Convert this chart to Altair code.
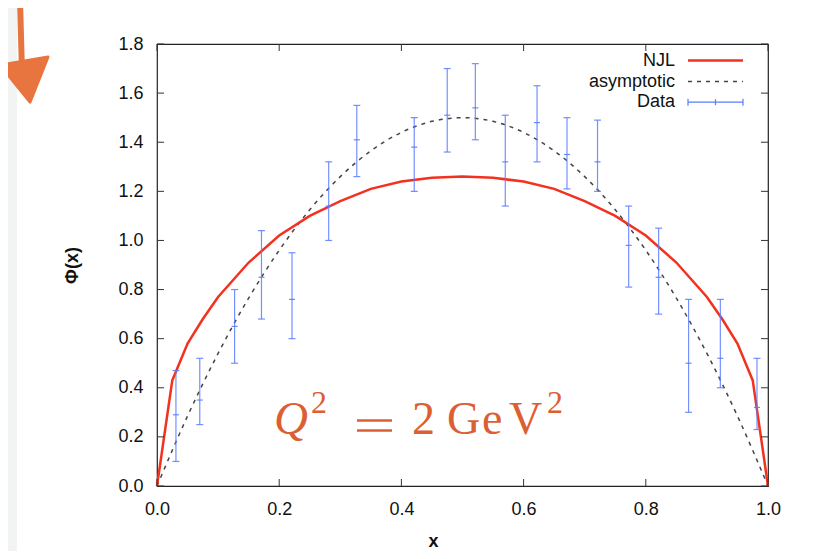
import altair as alt
import pandas as pd

# ---- data ----
data_x = [0.031, 0.070, 0.127, 0.171, 0.221, 0.281, 0.327, 0.421, 0.475, 0.521,
          0.570, 0.622, 0.671, 0.721, 0.772, 0.821, 0.870, 0.922, 0.982]
data_y = [0.29, 0.35, 0.65, 0.85, 0.76, 1.14, 1.41, 1.38, 1.51, 1.54,
          1.32, 1.48, 1.35, 1.32, 0.98, 0.85, 0.50, 0.52, 0.32]
data_lo = [0.10, 0.25, 0.50, 0.68, 0.60, 1.00, 1.26, 1.20, 1.36, 1.41,
           1.14, 1.32, 1.21, 1.20, 0.81, 0.70, 0.30, 0.40, 0.23]
data_hi = [0.47, 0.52, 0.80, 1.04, 0.95, 1.32, 1.55, 1.50, 1.70, 1.72,
           1.51, 1.63, 1.50, 1.49, 1.14, 1.05, 0.76, 0.76, 0.52]

njl_x = [0, 0.025, 0.05, 0.075, 0.1, 0.15, 0.2, 0.25, 0.3, 0.35, 0.4, 0.45, 0.5,
         0.55, 0.6, 0.65, 0.7, 0.75, 0.8, 0.85, 0.9, 0.925, 0.95, 0.975, 1.0]
njl_y = [0, 0.43, 0.58, 0.68, 0.77, 0.91, 1.02, 1.10, 1.16, 1.21, 1.24, 1.255, 1.26,
         1.255, 1.24, 1.21, 1.16, 1.10, 1.02, 0.91, 0.77, 0.68, 0.58, 0.43, 0]

asy_x = [0, 0.05, 0.1, 0.15, 0.2, 0.25, 0.3, 0.35, 0.4, 0.45, 0.5,
         0.55, 0.6, 0.65, 0.7, 0.75, 0.8, 0.85, 0.9, 0.95, 1.0]
asy_y = [0, 0.285, 0.54, 0.765, 0.96, 1.125, 1.26, 1.365, 1.44, 1.485, 1.5,
         1.485, 1.44, 1.365, 1.26, 1.125, 0.96, 0.765, 0.54, 0.285, 0]

x_ticks = [0.0, 0.2, 0.4, 0.6, 0.8, 1.0]
y_ticks = [0.0, 0.2, 0.4, 0.6, 0.8, 1.0, 1.2, 1.4, 1.6, 1.8]
legend_labels = ["NJL", "asymptotic", "Data"]

# ---- layout ----
W, H = 611, 442
RED = "#f3311f"
BLUE = "#5a7cff"
DASH = "#444444"
ORANGE = "#dc5f33"
ARROW = "#e8743f"

df_data = pd.DataFrame({"x": data_x, "y": data_y, "lo": data_lo, "hi": data_hi})
df_njl = pd.DataFrame({"x": njl_x, "y": njl_y})
df_asy = pd.DataFrame({"x": asy_x, "y": asy_y})
df_xt = pd.DataFrame({"t": x_ticks})
df_yt = pd.DataFrame({"t": y_ticks})
one = alt.Data(values=[{"a": 1}])

xs = alt.Scale(domain=[0, 1], nice=False, zero=False, padding=0)
ys = alt.Scale(domain=[0, 1.8], nice=False, zero=False, padding=0)

x_axis = alt.Axis(values=x_ticks, format=".1f", title="x", titleX=276, titleY=55,
                  titleBaseline="middle", titleAlign="center", labelFlush=False)
y_axis = alt.Axis(values=y_ticks, format=".1f", title="Φ(x)", titleX=-85, titleY=221,
                  titleAngle=-90, titleBaseline="middle", titleAlign="center", labelFlush=False)

asy = alt.Chart(df_asy).mark_line(color=DASH, strokeWidth=1.5, strokeDash=[4, 5],
                                  interpolate="monotone").encode(
    x=alt.X("x:Q", scale=xs, axis=x_axis),
    y=alt.Y("y:Q", scale=ys, axis=y_axis),
)
njl = alt.Chart(df_njl).mark_line(color=RED, strokeWidth=2.5, interpolate="linear").encode(
    x=alt.X("x:Q", scale=xs), y=alt.Y("y:Q", scale=ys))

bars = alt.Chart(df_data).mark_rule(color=BLUE, strokeWidth=1.2, opacity=0.85).encode(
    x=alt.X("x:Q", scale=xs), y=alt.Y("lo:Q", scale=ys), y2="hi:Q")
cap_hi = alt.Chart(df_data).mark_tick(color=BLUE, orient="horizontal", size=7,
                                      thickness=1.2, opacity=0.85).encode(
    x=alt.X("x:Q", scale=xs), y=alt.Y("hi:Q", scale=ys))
cap_lo = alt.Chart(df_data).mark_tick(color=BLUE, orient="horizontal", size=7,
                                      thickness=1.2, opacity=0.85).encode(
    x=alt.X("x:Q", scale=xs), y=alt.Y("lo:Q", scale=ys))
center = alt.Chart(df_data).mark_tick(color=BLUE, orient="horizontal", size=6,
                                      thickness=1.2, opacity=0.9).encode(
    x=alt.X("x:Q", scale=xs), y=alt.Y("y:Q", scale=ys))

# inward ticks on all four sides
tb = alt.Chart(df_xt).mark_rule(color="#333", strokeWidth=1).encode(
    x=alt.X("t:Q", scale=xs), y=alt.value(H), y2=alt.value(H - 7))
tt = alt.Chart(df_xt).mark_rule(color="#333", strokeWidth=1).encode(
    x=alt.X("t:Q", scale=xs), y=alt.value(0), y2=alt.value(7))
tl = alt.Chart(df_yt).mark_rule(color="#333", strokeWidth=1).encode(
    y=alt.Y("t:Q", scale=ys), x=alt.value(0), x2=alt.value(7))
tr = alt.Chart(df_yt).mark_rule(color="#333", strokeWidth=1).encode(
    y=alt.Y("t:Q", scale=ys), x=alt.value(W), x2=alt.value(W - 7))

# legend
leg_y = [16.5, 37.5, 58.2]
leg_text = [
    alt.Chart(one).mark_text(text=lab, align="right", baseline="middle", font="Liberation Sans",
                             fontSize=18, color="#111").encode(x=alt.value(518), y=alt.value(yy))
    for lab, yy in zip(legend_labels, leg_y)
]
leg_njl = alt.Chart(one).mark_rule(color=RED, strokeWidth=2.5).encode(
    x=alt.value(531), x2=alt.value(586), y=alt.value(leg_y[0]), y2=alt.value(leg_y[0]))
leg_asy = alt.Chart(one).mark_rule(color=DASH, strokeWidth=1.5, strokeDash=[4, 5]).encode(
    x=alt.value(531), x2=alt.value(586), y=alt.value(leg_y[1]), y2=alt.value(leg_y[1]))
leg_dat = [
    alt.Chart(one).mark_rule(color=BLUE, strokeWidth=1.2).encode(
        x=alt.value(531), x2=alt.value(586), y=alt.value(leg_y[2]), y2=alt.value(leg_y[2])),
    alt.Chart(one).mark_rule(color=BLUE, strokeWidth=1.2).encode(
        x=alt.value(531), x2=alt.value(531), y=alt.value(leg_y[2] - 3.5), y2=alt.value(leg_y[2] + 3.5)),
    alt.Chart(one).mark_rule(color=BLUE, strokeWidth=1.2).encode(
        x=alt.value(586), x2=alt.value(586), y=alt.value(leg_y[2] - 3.5), y2=alt.value(leg_y[2] + 3.5)),
    alt.Chart(one).mark_rule(color=BLUE, strokeWidth=1.2).encode(
        x=alt.value(558.5), x2=alt.value(558.5), y=alt.value(leg_y[2] - 3), y2=alt.value(leg_y[2] + 3)),
]

# Q^2 = 2 GeV^2 annotation
def txt(s, x, y, size, style="normal"):
    return alt.Chart(one).mark_text(text=s, align="left", baseline="alphabetic",
                                    font="Liberation Serif", fontSize=size, fontStyle=style,
                                    color=ORANGE).encode(x=alt.value(x), y=alt.value(y))

anno = [
    txt("Q", 117, 389.5, 47, "italic"),
    txt("2", 154, 369, 32),
    alt.Chart(one).mark_rule(color=ORANGE, strokeWidth=2.6).encode(
        x=alt.value(200), x2=alt.value(235), y=alt.value(376.5), y2=alt.value(376.5)),
    alt.Chart(one).mark_rule(color=ORANGE, strokeWidth=2.6).encode(
        x=alt.value(200), x2=alt.value(235), y=alt.value(386.5), y2=alt.value(386.5)),
    txt("2", 255, 389.5, 46),
    txt("G", 290, 389.5, 46),
    txt("e", 325, 389.5, 46),
    txt("V", 352, 389.5, 46),
    txt("2", 390, 369, 32),
]

# page decoration: grey strip and orange arrow
strip = alt.Chart(one).mark_rect(color="#f2f3f3").encode(
    x=alt.value(-149), x2=alt.value(-140), y=alt.value(-36), y2=alt.value(H + 65))
shaft = alt.Chart(one).mark_rule(color=ARROW, strokeWidth=6, strokeCap="round").encode(
    x=alt.value(-137), x2=alt.value(-135), y=alt.value(-44), y2=alt.value(28))
head = alt.Chart(one).mark_point(shape="M-1,-0.625L1,-0.96L0.25,0.92Z", filled=True,
                                 color=ARROW, opacity=1, size=2304, strokeWidth=3,
                                 stroke=ARROW, strokeJoin="round").encode(
    x=alt.value(-133), y=alt.value(36))

chart = alt.layer(
    strip, shaft, head,
    asy, njl, bars, cap_hi, cap_lo, center,
    tb, tt, tl, tr,
    *leg_text, leg_njl, leg_asy, *leg_dat,
    *anno,
).properties(
    width=W, height=H,
    autosize=alt.AutoSizeParams(type="none"),
    padding={"left": 149, "top": 36, "right": 55, "bottom": 65},
).configure_view(
    stroke="#222", strokeWidth=1.2
).configure_axis(
    domain=False, ticks=False, grid=False,
    labelFont="Liberation Sans", labelFontSize=18, labelColor="#111",
    titleFont="Liberation Sans", titleFontSize=18, titleFontWeight="bold", titleColor="#111",
).configure_axisX(labelPadding=14).configure_axisY(labelPadding=14)

chart.save("out.html", embed_options={"renderer": "svg", "actions": False})
